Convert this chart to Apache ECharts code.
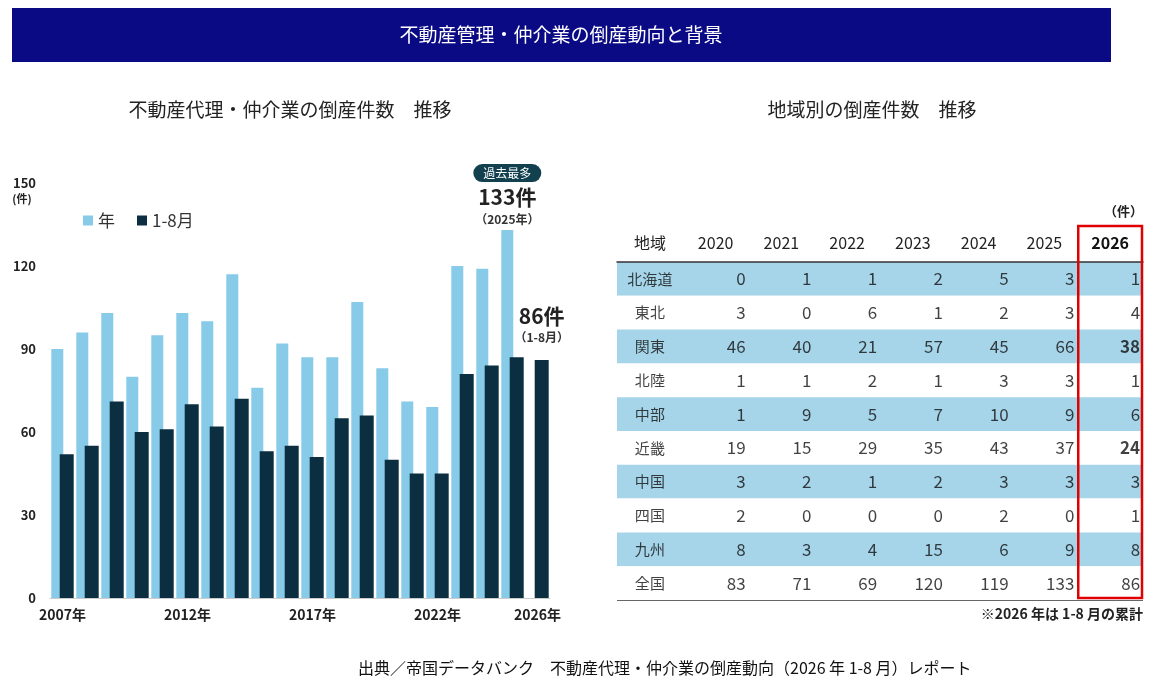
<!DOCTYPE html>
<html><head><meta charset="utf-8">
<script src="https://cdn.jsdelivr.net/npm/echarts@6/dist/echarts.min.js"></script>
<style>html,body{margin:0;padding:0;background:#fff}#c{width:1162px;height:696px}</style>
</head><body><div id="c"></div>
<script>
const years = ['2007','2008','2009','2010','2011','2012','2013','2014','2015','2016','2017','2018','2019','2020','2021','2022','2023','2024','2025','2026'];
const annual = [90,96,103,80,95,103,100,117,76,92,87,87,107,83,71,69,120,119,133,null];
const janAug = [52,55,71,60,61,70,62,72,53,55,51,65,66,50,45,45,81,84,87,86];
const tableCols = ['地域','2020','2021','2022','2023','2024','2025','2026'];
const regions = ['北海道','東北','関東','北陸','中部','近畿','中国','四国','九州','全国'];
const tableVals = [
 [0,1,1,2,5,3,1],[3,0,6,1,2,3,4],[46,40,21,57,45,66,38],[1,1,2,1,3,3,1],[1,9,5,7,10,9,6],
 [19,15,29,35,43,37,24],[3,2,1,2,3,3,3],[2,0,0,0,2,0,1],[8,3,4,15,6,9,8],[83,71,69,120,119,133,86]];
const boldCells = ['関東','近畿'];
const F = '"Noto Sans CJK JP","Noto Sans",sans-serif';
const light = '#87cbe8', dark = '#0b2f40';

const cellData = [];
regions.forEach((r,i)=>{
  cellData.push({value:['地域',r],label:{formatter:r,align:'center',offset:[0,0],fontSize:15}});
  tableVals[i].forEach((v,j)=>{
    const b = j===6 && boldCells.includes(r);
    cellData.push({value:[tableCols[j+1],r,v],label:{fontWeight:b?'bold':'normal'}});
  });
});

const chart = echarts.init(document.getElementById('c'));
chart.setOption({
  animation:false,
  textStyle:{fontFamily:F},
  graphic:[
    {type:'rect',shape:{x:12,y:8,width:1099,height:54},style:{fill:'#0a0a85'}},
    {type:'text',x:561,y:35,style:{text:'不動産管理・仲介業の倒産動向と背景',fill:'#fff',font:'19px '+F,textAlign:'center',textVerticalAlign:'middle'}},
    {type:'text',x:290,y:110,style:{text:'不動産代理・仲介業の倒産件数　推移',fill:'#222',font:'19px '+F,textAlign:'center',textVerticalAlign:'middle'}},
    {type:'text',x:872,y:110,style:{text:'地域別の倒産件数　推移',fill:'#222',font:'19px '+F,textAlign:'center',textVerticalAlign:'middle'}},
    {type:'text',x:22,y:199,style:{text:'(件)',fill:'#222',font:'bold 11px '+F,textAlign:'center',textVerticalAlign:'middle'}},
    {type:'text',x:1143,y:211,style:{text:'（件）',fill:'#222',font:'bold 13px '+F,textAlign:'right',textVerticalAlign:'middle'}},
    {type:'text',x:1143,y:614,style:{text:'※2026 年は 1-8 月の累計',fill:'#222',font:'bold 14px '+F,textAlign:'right',textVerticalAlign:'middle'}},
    {type:'text',x:358,y:668,style:{text:'出典／帝国データバンク　不動産代理・仲介業の倒産動向（2026 年 1-8 月）レポート',fill:'#111',font:'16px '+F,textAlign:'left',textVerticalAlign:'middle'}},
    {type:'line',shape:{x1:617,y1:600,x2:1143,y2:600},style:{stroke:'#333',lineWidth:1.5}}
  ],
  legend:{left:78,top:207,itemWidth:10,itemHeight:10,itemGap:22,icon:'rect',
    textStyle:{fontSize:17,color:'#333',fontFamily:F},data:['年','1-8月']},
  grid:[{left:50,top:183,width:500,height:415},{left:617,top:262,width:526,height:338}],
  xAxis:[
    {type:'category',data:years,gridIndex:0,axisTick:{show:false},axisLine:{lineStyle:{color:'#ccc'}},
     axisLabel:{interval:0,fontWeight:'bold',fontSize:14,color:'#222',margin:10,
       formatter:(v)=>['2007','2012','2017','2022','2026'].includes(v)?v+'年':''}},
    {type:'category',data:tableCols,gridIndex:1,position:'top',axisTick:{show:false},
     axisLine:{lineStyle:{color:'#333',width:1.5}},
     axisLabel:{interval:0,fontSize:16,color:'#222',margin:11,
       formatter:(v)=>v==='2026'?'{b|2026}':v,rich:{b:{fontWeight:'bold',fontSize:16,color:'#111'}}}}
  ],
  yAxis:[
    {type:'value',gridIndex:0,min:0,max:150,interval:30,splitLine:{show:false},
     axisLabel:{fontWeight:'bold',fontSize:13,color:'#222',margin:14}},
    {type:'category',data:regions,gridIndex:1,inverse:true,axisLine:{show:false},axisTick:{show:false},
     axisLabel:{show:false},splitArea:{show:true,areaStyle:{color:['#a6d5ea','#ffffff']}}}
  ],
  series:[
    {name:'年',type:'bar',data:annual.map((v,i)=>i===18?{value:v,label:{show:true,position:'top',distance:2,
        formatter:'{badge|過去最多}\n{v|133件}\n{s|（2025年）}',
        rich:{badge:{backgroundColor:'#12404f',color:'#fff',borderRadius:9,padding:[3,10],fontSize:12,lineHeight:22},
          v:{fontSize:21,fontWeight:'bold',color:'#222',lineHeight:26},s:{fontSize:12,fontWeight:'bold',color:'#333',lineHeight:18}}}}:v),
     barWidth:12,barGap:'-30%',itemStyle:{color:light},xAxisIndex:0,yAxisIndex:0},
    {name:'1-8月',type:'bar',data:janAug.map((v,i)=>i===19?{value:v,label:{show:true,position:'top',distance:14,
        formatter:'{v|86件}\n{s|（1-8月）}',
        rich:{v:{fontSize:21,fontWeight:'bold',color:'#222',lineHeight:24},s:{fontSize:12,fontWeight:'bold',color:'#333',lineHeight:18}}}}:v),
     barWidth:14,itemStyle:{color:dark},xAxisIndex:0,yAxisIndex:0},
    {type:'scatter',xAxisIndex:1,yAxisIndex:1,symbolSize:0,data:cellData,silent:true,
     label:{show:true,position:'inside',align:'right',offset:[30,0],fontSize:17,color:'#111',
       formatter:(p)=>p.value[2]}}
  ]
});
const p1 = chart.convertToPixel({xAxisIndex:1,yAxisIndex:1},['2026','北海道']);
const p2 = chart.convertToPixel({xAxisIndex:1,yAxisIndex:1},['2026','全国']);
const hw = 526/tableCols.length/2, hh = 338/regions.length/2;
chart.setOption({graphic:[{type:'rect',id:'redbox',shape:{x:p1[0]-hw+1,y:p1[1]-hh-36,width:hw*2-2,height:p2[1]-p1[1]+hh*2+34},
  style:{fill:'none',stroke:'#e00000',lineWidth:2.5},z:100}]});
</script></body></html>
